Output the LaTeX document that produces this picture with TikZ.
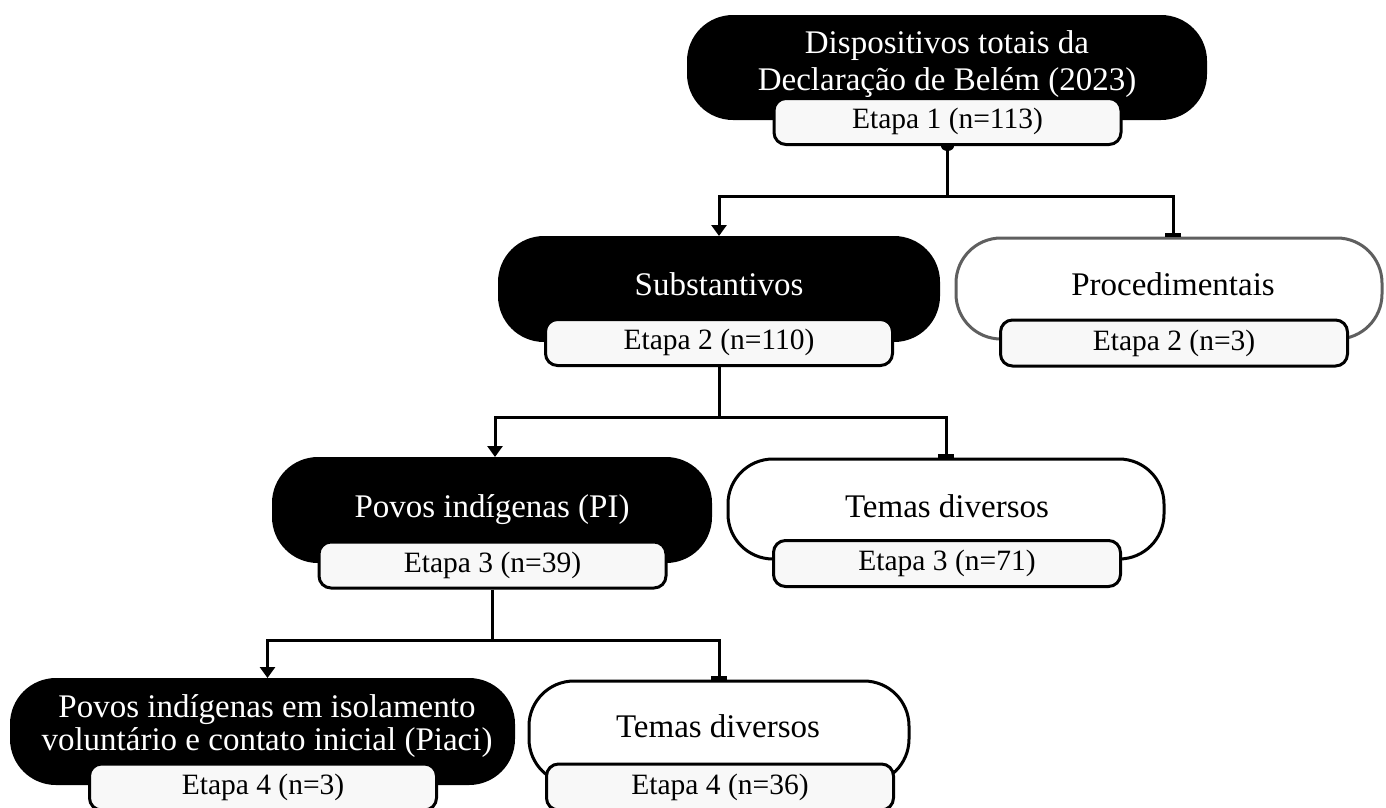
\documentclass[tikz,border=0pt]{standalone}
\usepackage{fontspec}
\setmainfont{Liberation Serif}
\usetikzlibrary{arrows.meta}
\definecolor{lblfill}{RGB}{248,248,248}
\definecolor{procgray}{RGB}{95,95,95}
\begin{document}
\begin{tikzpicture}[x=1pt,y=-1pt,
  blackbox/.style={fill=black, draw=black, line width=2pt, rounded corners=45pt, inner sep=0pt},
  whitebox/.style={fill=white, draw=black, line width=3pt, rounded corners=45pt, inner sep=0pt},
  graybox/.style={whitebox, draw=procgray},
  stage/.style={fill=lblfill, draw=black, line width=3pt, rounded corners=12pt,
    minimum width=347pt, minimum height=46pt, inner sep=0pt,
    font=\fontsize{29.5}{33}\selectfont},
  wtitle/.style={text=white, font=\fontsize{33}{37}\selectfont, align=center, inner sep=0pt},
  ktitle/.style={text=black, font=\fontsize{33}{37}\selectfont, align=center, inner sep=0pt},
  conn/.style={line width=3pt, draw=black},
  arrowend/.style={-{Triangle[width=15pt,length=11pt]}},
  barend/.style={-{Bar[width=16pt,line width=4pt]}}
]
\useasboundingbox (0,0) rectangle (1386,807);

% ---- level 1
\node[blackbox, minimum width=518pt, minimum height=103pt] (top) at (947,67.5) {};
\node[wtitle, font=\fontsize{33}{37}\selectfont] (toptxt) at (947,64)
  {Dispositivos totais da\\Declaração de Belém (2023)};
\node[stage] (l1) at (947.5,121.5) {Etapa 1 (n=113)};

% ---- level 2
\node[blackbox, minimum width=440pt, minimum height=104pt] (sub) at (719,289) {};
\node[wtitle, anchor=base] (subtxt) at (719,295) {Substantivos};
\node[stage] (l2a) at (719,342.5) {Etapa 2 (n=110)};

\node[graybox, minimum width=426pt, minimum height=101pt] (proc) at (1169,288.5) {};
\node[ktitle, anchor=base] (proctxt) at (1173,295) {Procedimentais};
\node[stage] (l2b) at (1174,343) {Etapa 2 (n=3)};

% ---- level 3
\node[blackbox, minimum width=438pt, minimum height=104pt] (pi) at (492,510) {};
\node[wtitle, anchor=base] (pitxt) at (492,517) {Povos indígenas (PI)};
\node[stage] (l3a) at (492.5,565) {Etapa 3 (n=39)};

\node[whitebox, minimum width=436pt, minimum height=100pt] (tem3) at (946,509) {};
\node[ktitle, anchor=base] (tem3txt) at (947,517) {Temas diversos};
\node[stage] (l3b) at (947,563.5) {Etapa 3 (n=71)};

% ---- level 4
\node[blackbox, minimum width=503pt, minimum height=105pt] (piaci) at (262.5,731.5) {};
\node[wtitle, font=\fontsize{33}{33}\selectfont] (piacitxt) at (267,726)
  {Povos indígenas em isolamento\\voluntário e contato inicial (Piaci)};
\node[stage] (l4a) at (263,787) {Etapa 4 (n=3)};

\node[whitebox, minimum width=380pt, minimum height=103pt] (tem4) at (719,732.5) {};
\node[ktitle, anchor=base] (tem4txt) at (718,737) {Temas diversos};
\node[stage] (l4b) at (720,787) {Etapa 4 (n=36)};

% ---- connectors
\fill (l1.south) ++(-6.5,0) arc[start angle=180, end angle=360, x radius=6.5pt, y radius=5pt] -- cycle;
\draw[conn] (l1.south) -- ++(0,50) coordinate (j1);
\draw[conn, arrowend] (j1) -| (sub.north);
\draw[conn, barend] (j1) -| ([xshift=4pt]proc.north);

\draw[conn] (l2a.south) -- ++(0,50) coordinate (j2);
\draw[conn, arrowend] (j2) -| ([xshift=3pt]pi.north);
\draw[conn, barend] (j2) -| (tem3.north);

\draw[conn] (l3a.south) -- ++(0,51) coordinate (j3);
\draw[conn, arrowend] (j3) -| ([xshift=5pt]piaci.north);
\draw[conn, barend] (j3) -| (tem4.north);
\end{tikzpicture}
\end{document}
